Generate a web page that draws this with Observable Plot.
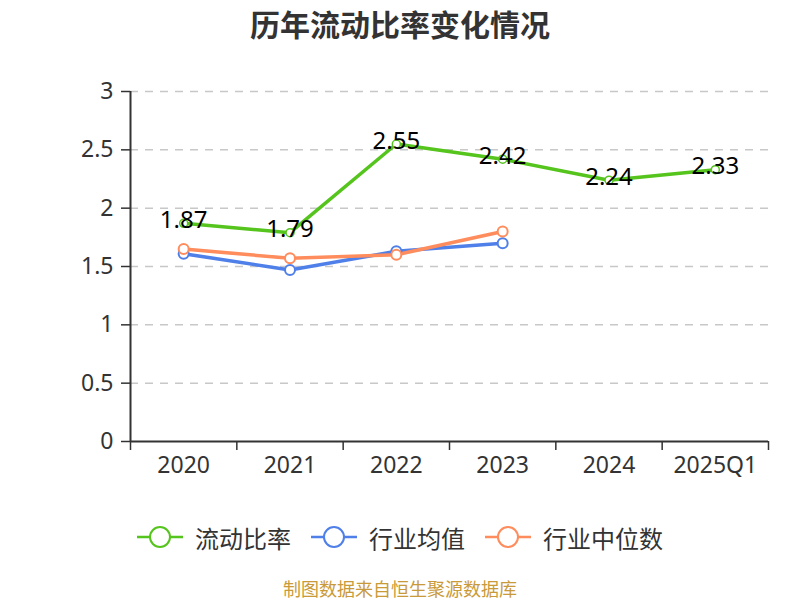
<!DOCTYPE html>
<html><head><meta charset="utf-8">
<script src="https://cdn.jsdelivr.net/npm/d3@7"></script>
<script src="https://cdn.jsdelivr.net/npm/@observablehq/plot@0.6"></script>
<style>
body{margin:0;background:#fff;font-family:"Noto Sans","Noto Sans CJK SC",sans-serif;width:800px;height:600px;overflow:hidden}
#title{height:44px;line-height:46px;text-align:center;font-size:30px;font-weight:bold;color:#333;font-family:"Noto Sans CJK SC",sans-serif}
#chart svg{display:block}
#legend{display:flex;justify-content:center;align-items:center;height:26px;margin-top:10px;font-family:"Noto Sans CJK SC",sans-serif;font-size:24px;color:#333}
.item{display:flex;align-items:center;margin:0 10px}
.item svg{margin-right:12px}
#caption{text-align:center;font-size:18px;line-height:24px;color:#c99a3a;margin-top:26px;font-family:"Noto Sans CJK SC",sans-serif}
</style></head><body>
<div id="title">历年流动比率变化情况</div>
<div id="chart"></div>
<div id="legend"></div>
<div id="caption">制图数据来自恒生聚源数据库</div>
<script>
const categories = ["2020","2021","2022","2023","2024","2025Q1"];
const currentRatio = [1.87,1.79,2.55,2.42,2.24,2.33];
const industryMean = [1.61,1.47,1.63,1.70];
const industryMedian = [1.65,1.57,1.60,1.80];
const yTicks = [0,0.5,1,1.5,2,2.5,3];
const seriesNames = ["流动比率","行业均值","行业中位数"];
const colors = ["#55c41c","#4f7fe8","#ff8c5c"];

const toRows = (vals, name) => vals.map((v, i) => ({i, cat: categories[i], v, name}));
const green = toRows(currentRatio, seriesNames[0]);
const blue = toRows(industryMean, seriesNames[1]);
const orange = toRows(industryMedian, seriesNames[2]);
const idx = categories.map((_, i) => i);
const bounds = categories.map((_, i) => i - 0.5).concat([categories.length - 0.5]);

const chart = Plot.plot({
  width: 800, height: 470,
  marginLeft: 130, marginRight: 32, marginTop: 47, marginBottom: 73,
  style: {fontFamily: '"Noto Sans","Noto Sans CJK SC",sans-serif', background: "#fff"},
  x: {type: "linear", domain: [-0.5, categories.length - 0.5], axis: null, label: null},
  y: {domain: [0, 3], axis: null, label: null},
  marks: [
    Plot.gridY(yTicks.filter(d => d > 0), {stroke: "#c8c8c8", strokeOpacity: 1, strokeDasharray: "8,7", strokeWidth: 1.5}),
    Plot.axisY(yTicks, {label: null, tickSize: 9, tickPadding: 8, fontSize: 23, color: "#333", stroke: "#333", strokeWidth: 1.5, tickFormat: d => String(d)}),
    Plot.axisX(bounds, {label: null, tickSize: 9, tickFormat: () => "", stroke: "#333", strokeWidth: 1.5}),
    Plot.axisX(idx, {label: null, tickSize: 0, tickPadding: 15, fontSize: 23, color: "#333", tickFormat: i => categories[i]}),
    Plot.ruleX([-0.5], {stroke: "#333", strokeWidth: 2}),
    Plot.ruleY([0], {stroke: "#333", strokeWidth: 2}),
    Plot.line(blue, {x: "i", y: "v", stroke: colors[1], strokeWidth: 3.5}),
    Plot.line(orange, {x: "i", y: "v", stroke: colors[2], strokeWidth: 3.5}),
    Plot.line(green, {x: "i", y: "v", stroke: colors[0], strokeWidth: 3.5}),
    Plot.dot(blue, {x: "i", y: "v", r: 5, fill: "#fff", stroke: colors[1], strokeWidth: 2}),
    Plot.dot(orange, {x: "i", y: "v", r: 5, fill: "#fff", stroke: colors[2], strokeWidth: 2}),
    Plot.dot(green, {x: "i", y: "v", r: 4, fill: "#fff", stroke: colors[0], strokeWidth: 1.5}),
    Plot.text(green, {x: "i", y: "v", text: d => d.v.toFixed(2), fontSize: 24, fill: "#000", dy: -3})
  ]
});
document.getElementById("chart").appendChild(chart);

const legend = document.getElementById("legend");
seriesNames.forEach((name, k) => {
  const item = document.createElement("div");
  item.className = "item";
  item.innerHTML = `<svg width="46" height="26"><line x1="0" y1="13" x2="46" y2="13" stroke="${colors[k]}" stroke-width="2.5"/><circle cx="23" cy="13" r="10" fill="#fff" stroke="${colors[k]}" stroke-width="2"/></svg><span>${name}</span>`;
  legend.appendChild(item);
});
</script>
</body></html>
